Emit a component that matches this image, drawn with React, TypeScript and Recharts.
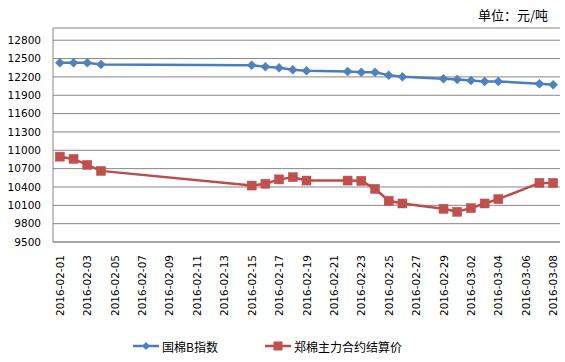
import React from 'react';
import { LineChart, Line, XAxis, YAxis, CartesianGrid, Legend } from 'recharts';

const dates = [
  '2016-02-01', '2016-02-02', '2016-02-03', '2016-02-04', '2016-02-05', '2016-02-06', '2016-02-07',
  '2016-02-08', '2016-02-09', '2016-02-10', '2016-02-11', '2016-02-12', '2016-02-13', '2016-02-14',
  '2016-02-15', '2016-02-16', '2016-02-17', '2016-02-18', '2016-02-19', '2016-02-20', '2016-02-21',
  '2016-02-22', '2016-02-23', '2016-02-24', '2016-02-25', '2016-02-26', '2016-02-27', '2016-02-28',
  '2016-02-29', '2016-03-01', '2016-03-02', '2016-03-03', '2016-03-04', '2016-03-05', '2016-03-06',
  '2016-03-07', '2016-03-08',
];

// 国棉B指数 (null = no quote that day)
const cottonB = [
  12430, 12430, 12430, 12404, null, null, null,
  null, null, null, null, null, null, null,
  12392, 12366, 12348, 12316, 12300, null, null,
  12289, 12275, 12276, 12229, 12201, null, null,
  12169, 12159, 12142, 12126, 12126, null, null,
  12087, 12071,
];

// 郑棉主力合约结算价
const zhengPrice = [
  10896, 10859, 10761, 10663, null, null, null,
  null, null, null, null, null, null, null,
  10423, 10453, 10524, 10560, 10505, null, null,
  10505, 10500, 10369, 10174, 10130, null, null,
  10043, 9994, 10054, 10130, 10201, null, null,
  10467, 10467,
];

const yTicks = [9500, 9800, 10100, 10400, 10700, 11000, 11300, 11600, 11900, 12200, 12500, 12800];

const BLUE = '#4A7EBB';
const RED = '#BE4B48';

const data = dates.map((d, i) => ({ date: d, b: cottonB[i], z: zhengPrice[i] }));

const DateTick = (props: any) => {
  const { x, y, payload } = props;
  return (
    <text
      transform={`translate(${x},${y}) rotate(-90)`}
      textAnchor="end"
      dominantBaseline="central"
      fontSize={10.5}
      fill="#000"
    >
      {payload.value}
    </text>
  );
};

const diamondPath = (cx: number, cy: number, r: number) =>
  `M${cx},${cy - r}L${cx + r},${cy}L${cx},${cy + r}L${cx - r},${cy}Z`;

const DiamondDot = (props: any) => {
  const { cx, cy, index } = props;
  if (cx == null || cy == null || props.value == null) return <g key={`bd-${index}`} />;
  return <path key={`bd-${index}`} d={diamondPath(cx, cy, 4.5)} fill="#4F81BD" stroke={BLUE} strokeWidth={0.5} />;
};

const SquareDot = (props: any) => {
  const { cx, cy, index } = props;
  if (cx == null || cy == null || props.value == null) return <g key={`zd-${index}`} />;
  return <rect key={`zd-${index}`} x={cx - 4.5} y={cy - 4.5} width={9} height={9} fill="#C0504D" stroke={RED} strokeWidth={0.5} />;
};

const renderLegend = () => (
  <div
    style={{
      display: 'flex',
      alignItems: 'center',
      height: 40,
      paddingLeft: 133,
      paddingTop: 8,
      boxSizing: 'border-box',
      fontSize: 12,
      fontFamily: '"Noto Sans CJK SC", sans-serif',
      color: '#000',
    }}
  >
    <svg width={26} height={10}>
      <line x1={0} y1={5} x2={26} y2={5} stroke={BLUE} strokeWidth={2.5} />
      <path d={diamondPath(13, 5, 4)} fill="#4F81BD" />
    </svg>
    <span style={{ marginLeft: 3 }}>国棉B指数</span>
    <svg width={26} height={10} style={{ marginLeft: 47 }}>
      <line x1={0} y1={5} x2={26} y2={5} stroke={RED} strokeWidth={2.5} />
      <rect x={8.5} y={0.5} width={9} height={9} fill="#C0504D" />
    </svg>
    <span style={{ marginLeft: 3 }}>郑棉主力合约结算价</span>
  </div>
);

export default function App() {
  return (
    <div
      style={{
        position: 'absolute',
        left: 0,
        top: 0,
        width: 565,
        height: 362,
        background: '#fff',
        fontFamily: '"DejaVu Sans", sans-serif',
      }}
    >
      <div
        style={{
          position: 'absolute',
          left: 478,
          top: 5,
          fontSize: 13,
          fontFamily: '"Noto Sans CJK SC", sans-serif',
          color: '#000',
          whiteSpace: 'nowrap',
          zIndex: 1,
        }}
      >
        单位：元/吨
      </div>
      <LineChart width={565} height={362} data={data} margin={{ top: 28, right: 5, bottom: 0, left: 0 }}>
        <CartesianGrid vertical={false} stroke="#868686" strokeWidth={1} />
        <XAxis
          dataKey="date"
          interval={1}
          tickLine={false}
          tickSize={0}
          tickMargin={13}
          height={80}
          padding={{ left: 6.85, right: 6.85 }}
          stroke="#868686"
          tick={<DateTick />}
        />
        <YAxis
          width={53}
          domain={[9500, 13000]}
          ticks={yTicks}
          interval={0}
          tickLine={false}
          tickSize={0}
          tickMargin={12}
          stroke="#868686"
          tick={{ fontSize: 10.5, fill: '#000' }}
        />
        <Legend verticalAlign="bottom" height={40} content={renderLegend} />
        <Line
          dataKey="b"
          stroke={BLUE}
          strokeWidth={2.5}
          connectNulls
          dot={DiamondDot}
          activeDot={false}
          isAnimationActive={false}
        />
        <Line
          dataKey="z"
          stroke={RED}
          strokeWidth={2.5}
          connectNulls
          dot={SquareDot}
          activeDot={false}
          isAnimationActive={false}
        />
      </LineChart>
    </div>
  );
}
